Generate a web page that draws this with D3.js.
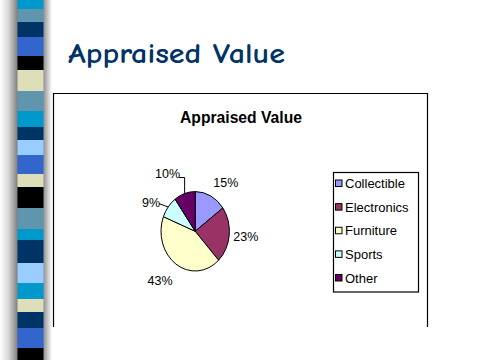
<!DOCTYPE html>
<html>
<head>
<meta charset="utf-8">
<script src="https://cdn.jsdelivr.net/npm/d3@7"></script>
<style>
  html, body { margin: 0; padding: 0; background: #ffffff; }
  svg { display: block; }
</style>
</head>
<body>
<svg id="chart" width="480" height="360"></svg>
<script>
// ---- data ----
const categories = ["Collectible", "Electronics", "Furniture", "Sports", "Other"];
const values = [15, 23, 43, 9, 10];
const percentLabels = ["15%", "23%", "43%", "9%", "10%"];
const sliceColors = ["#9999FF", "#993366", "#FFFFCC", "#CCFFFF", "#660066"];
const slideTitle = "Appraised Value";
const chartTitle = "Appraised Value";

// decorative strip on the slide's left edge (colour sequence)
const stripColors = ["#0099CC","#5F95AD","#003366","#3366CC","#000000","#DEDEB8","#5F95AD","#0099CC","#003366","#99CCFF","#3366CC","#DEDEB8","#000000","#5F95AD","#0099CC","#003366","#99CCFF","#0099CC","#DEDEB8","#003366","#3366CC","#000000"];
const stripBreaks = [0,9,22,37,56,70,91,111,127,140,155,174,187,208,229,240,263,283,299,312,328,348,360];

// ---- layout ----
const svg = d3.select("#chart");
const defs = svg.append("defs");

const gl = defs.append("linearGradient").attr("id","shadeL").attr("x1","0").attr("x2","1").attr("y1","0").attr("y2","0");
gl.append("stop").attr("offset","0%").attr("stop-color","#ffffff");
gl.append("stop").attr("offset","45%").attr("stop-color","#dadada");
gl.append("stop").attr("offset","100%").attr("stop-color","#7a7a7a");
const gr = defs.append("linearGradient").attr("id","shadeR").attr("x1","0").attr("x2","1").attr("y1","0").attr("y2","0");
gr.append("stop").attr("offset","0%").attr("stop-color","#8a8a8a");
gr.append("stop").attr("offset","100%").attr("stop-color","#ffffff");

svg.append("rect").attr("x",0).attr("y",0).attr("width",18).attr("height",360).attr("fill","url(#shadeL)");
svg.append("rect").attr("x",43).attr("y",0).attr("width",9).attr("height",360).attr("fill","url(#shadeR)");

const yStrip = d3.scaleLinear().domain([0, 360]).range([0, 360]);
svg.append("g").selectAll("rect").data(stripColors).join("rect")
  .attr("x", 17.5).attr("width", 26)
  .attr("y", (d,i) => yStrip(stripBreaks[i]))
  .attr("height", (d,i) => yStrip(stripBreaks[i+1]) - yStrip(stripBreaks[i]))
  .attr("fill", d => d);

// slide title
svg.append("text")
  .attr("x", 68).attr("y", 63)
  .attr("textLength", 217).attr("lengthAdjust", "spacingAndGlyphs")
  .attr("font-family", "'Comic Sans MS', 'Comic Neue', 'Open Sans', sans-serif")
  .attr("font-weight", "bold")
  .attr("font-size", 28).attr("fill", "#003366")
  .text(slideTitle);

// chart frame (bottom cut off by slide)
svg.append("path")
  .attr("d", "M53.5,327 V93.5 H427.5 V327")
  .attr("fill","none").attr("stroke","#000").attr("stroke-width",1.2);

// chart title
svg.append("text")
  .attr("x", 241).attr("y", 123)
  .attr("text-anchor","middle")
  .attr("textLength", 122).attr("lengthAdjust","spacingAndGlyphs")
  .attr("font-family","'Liberation Sans', Arial, sans-serif")
  .attr("font-weight","bold").attr("font-size", 16).attr("fill","#000")
  .text(chartTitle);

// pie (elliptical, as on the slide)
const cx = 195.2, cy = 231.3, rx = 34.2, ry = 39.7;
const pie = d3.pie().sort(null).value(d => d)(values);
const arc = d3.arc().innerRadius(0).outerRadius(rx);

const pg = svg.append("g").attr("transform", `translate(${cx},${cy}) scale(1,${ry/rx})`);
pg.selectAll("path").data(pie).join("path")
  .attr("d", arc)
  .attr("fill", (d,i) => sliceColors[i])
  .attr("stroke", "#000").attr("stroke-width", 1)
  .attr("vector-effect","non-scaling-stroke");

// label placement: ellipse point beyond the slice's mid angle, plus manual drag offsets
const mid = d => (d.startAngle + d.endAngle) / 2;
const ellipsePt = (a, ex, ey) => [cx + ex * Math.sin(a), cy - ey * Math.cos(a)];
const labelNudge = [[8.7,-1.1],[2.6,-0.2],[-8.1,5],[-6.1,3.8],[-12.8,-6.2]];
const labelFont = 12.5;
const labelG = svg.append("g")
  .attr("font-family","'Liberation Sans', Arial, sans-serif")
  .attr("font-size", labelFont).attr("fill","#000");

const labelPos = pie.map((d,i) => {
  const p = ellipsePt(mid(d), rx + 14, ry + 14);
  return [p[0] + labelNudge[i][0], p[1] + labelNudge[i][1]];
});

labelG.selectAll("text").data(pie).join("text")
  .attr("x", (d,i) => labelPos[i][0])
  .attr("y", (d,i) => labelPos[i][1])
  .attr("dy", "0.35em")
  .attr("text-anchor","middle")
  .text((d,i) => percentLabels[i]);

// leader lines for labels that were dragged away from the pie (Sports, Other)
const halfW = t => t.length * 3.35 + 1.5;
const leaders = [3, 4].map(i => {
  const d = pie[i];
  const end = ellipsePt(mid(d), rx, ry);
  const lx = labelPos[i][0] + halfW(percentLabels[i]);
  const ly = labelPos[i][1];
  if (i === 4) {
    const y0 = ly + 3.5;
    return [[lx, y0], [end[0], y0], end];
  }
  return [[lx, ly + 1.5], end];
});
svg.append("g").selectAll("path").data(leaders).join("path")
  .attr("d", d3.line())
  .attr("fill","none").attr("stroke","#000").attr("stroke-width",1);

// legend
const legX = 333.5, legY = 172.5, legW = 85, legH = 119.5;
const leg = svg.append("g");
leg.append("rect").attr("x", legX).attr("y", legY).attr("width", legW).attr("height", legH)
  .attr("fill","#fff").attr("stroke","#000").attr("stroke-width",1.2);
const yLeg = d3.scalePoint().domain(categories).range([183.5, 278]);
const items = leg.selectAll("g.item").data(categories).join("g").attr("class","item")
  .attr("transform", d => `translate(0,${yLeg(d)})`);
items.append("rect").attr("x", 335.5).attr("y", -3.5).attr("width", 6.5).attr("height", 6.5)
  .attr("fill", (d,i) => sliceColors[i]).attr("stroke","#000").attr("stroke-width",1);
items.append("text").attr("x", 345).attr("dy","0.36em")
  .attr("font-family","'Liberation Sans', Arial, sans-serif")
  .attr("font-size", 13).attr("fill","#000")
  .text(d => d);
</script>
</body>
</html>
